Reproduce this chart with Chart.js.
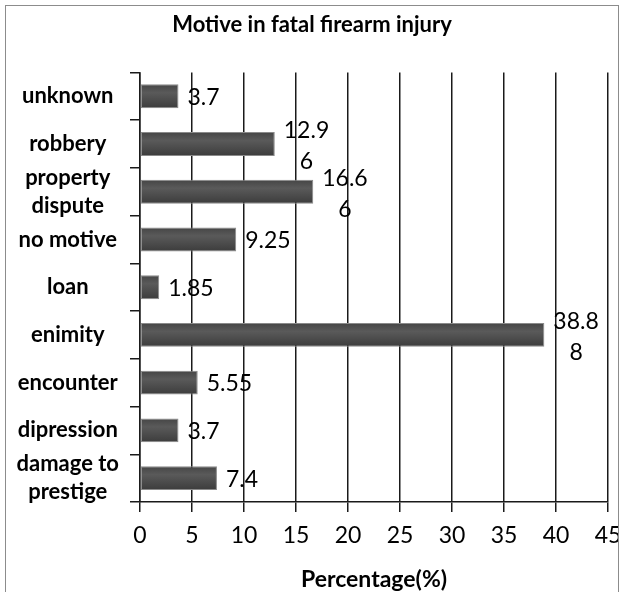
<!DOCTYPE html>
<html>
<head>
<meta charset="utf-8">
<script src="https://cdn.jsdelivr.net/npm/chart.js@4"></script>
<style>
body{margin:0;background:#fff;overflow:hidden}
#box{position:absolute;left:5px;top:5px;border:1px solid #8c8c8c;border-bottom:none}
</style>
</head>
<body>
<div id="box"><canvas id="c" width="612" height="590"></canvas></div>
<script>

let motives=[["unknown"],["robbery"],["property","dispute"],["no motive"],["loan"],["enimity"],["encounter"],["dipression"],["damage to","prestige"]]
let percent=[3.7,12.96,16.66,9.25,1.85,38.88,5.55,3.7,7.4]
let xTicks=[0,5,10,15,20,25,30,35,40,45]

let FONT="Lato"

// bar values written beside the bars, wrapped like the original labels
let valueLabels={
id:"valueLabels",
afterDatasetsDraw(chart){
let ctx=chart.ctx
ctx.save()
ctx.font="23px "+FONT
ctx.fillStyle="#000"
ctx.textAlign="center"
ctx.textBaseline="middle"
chart.getDatasetMeta(0).data.forEach((bar,i)=>{
let txt=String(percent[i])
let lines=txt.length>4?[txt.slice(0,4),txt.slice(4)]:[txt]
let w=ctx.measureText(lines[0]).width
let cx=bar.x+9+w/2
if(lines.length==1){
ctx.fillText(lines[0],cx,bar.y+1)
}else{
ctx.fillText(lines[0],cx,bar.y-13)
ctx.fillText(lines[1],cx,bar.y+18)
}
})
ctx.restore()
}
}

function barFill(context){
let chart=context.chart
let y=chart.scales.y
if(!y) return "#4f4f4f"
let py=y.getPixelForValue(context.dataIndex)
let h=y.height/motives.length*0.5
if(!isFinite(py)||!isFinite(h)||h<=0) return "#4f4f4f"
let g=chart.ctx.createLinearGradient(0,py-h/2,0,py+h/2)
g.addColorStop(0,"#454545")
g.addColorStop(0.35,"#5a5a5a")
g.addColorStop(1,"#3c3c3c")
return g
}

new Chart(document.getElementById("c"),{
type:"bar",
data:{
labels:motives,
datasets:[{
data:percent,
backgroundColor:barFill,
borderColor:"#8a8a8a",
borderWidth:1,
borderSkipped:false,
categoryPercentage:1,
barPercentage:0.5
}]
},
options:{
indexAxis:"y",
responsive:false,
animation:false,
layout:{padding:0},
plugins:{
legend:{display:false},
tooltip:{enabled:false},
title:{
display:true,
text:"Motive in fatal firearm injury",
color:"#000",
font:{family:FONT,size:22,weight:"bold",lineHeight:1.2},
padding:{top:6,bottom:34}
}
},
scales:{
x:{
min:0,
max:45,
afterBuildTicks(scale){scale.ticks=xTicks.map(v=>({value:v}))},
afterFit(scale){scale.height=94;scale.paddingLeft=0;scale.paddingRight=10},
grid:{color:"#1a1a1a",lineWidth:1.5,tickLength:10,drawTicks:true},
border:{color:"#1a1a1a",width:1.5},
ticks:{color:"#000",padding:10,autoSkip:false,maxRotation:0,font:{family:FONT,size:23}},
title:{
display:true,
text:"Percentage(%)",
color:"#000",
font:{family:FONT,size:23,weight:"bold",lineHeight:1.2},
padding:{top:4,bottom:3}
}
},
y:{
afterFit(scale){scale.width=134},
grid:{drawOnChartArea:false,color:"#1a1a1a",lineWidth:1.5,tickLength:10,offset:true},
border:{color:"#1a1a1a",width:1.5},
ticks:{color:"#000",autoSkip:false,crossAlign:"center",padding:11,font:{family:FONT,size:22,weight:"bold",lineHeight:1.27}}
}
}
},
plugins:[valueLabels]
})

</script>
</body>
</html>
